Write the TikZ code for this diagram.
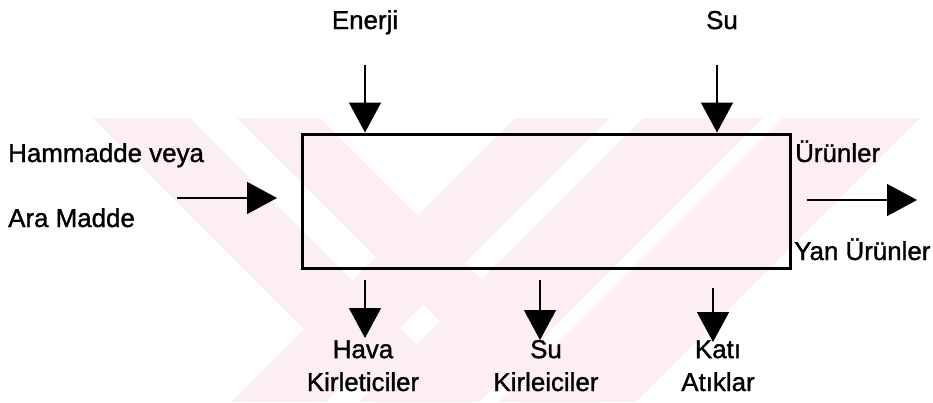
\documentclass[tikz,border=0pt]{standalone}
\usepackage{fontspec}
\setmainfont{Liberation Sans}
\newfontfamily\lblfont[FakeBold=1.2]{Liberation Sans}
\usetikzlibrary{arrows.meta}
\definecolor{markpink}{RGB}{253,238,241}

\begin{document}
\begin{tikzpicture}[x=1bp, y=-1bp,
  lbl/.style={inner sep=0pt, font=\lblfont\fontsize{26}{33}\selectfont, align=center},
  flow/.style={-{Triangle[length=30bp, width=32bp]}, line width=1.4bp},
  procbox/.style={draw, line width=3bp, minimum width=488bp, minimum height=134bp, inner sep=0pt}]
\useasboundingbox (0,0) rectangle (933,402);

% pale stripes behind the chart
\begin{scope}
\clip (0,118) rectangle (933,402);
\foreach \a/\b in {93/190, 237/320}
  \fill[markpink] (\a,118) -- (\b,118) -- (\b+284,402) -- (\a+284,402) -- cycle;
\foreach \a/\b in {515/610, 643/763, 783/920}
  \fill[markpink] (\a,118) -- (\b,118) -- (\b-284,402) -- (\a-284,402) -- cycle;
\end{scope}

% process box
\node[procbox] (proc) at (546,201) {};

% inputs from above
\node[lbl, anchor=base] (enerji) at (365,29) {Enerji};
\node[lbl, anchor=base] (su) at (722,29) {Su};
\coordinate (enerjiIn) at (365,65);
\coordinate (suIn) at (717,65);
\draw[flow] (enerjiIn) -- (enerjiIn |- proc.north);
\draw[flow] (suIn) -- (suIn |- proc.north);

% raw material in, products out
\node[lbl, anchor=base west] (hammadde) at (8,162) {Hammadde veya};
\node[lbl, anchor=base west] (ara) at (8,227) {Ara Madde};
\coordinate (hamIn) at (177,198);
\coordinate (hamTip) at (277,198);
\draw[flow] (hamIn) -- (hamTip);

\node[lbl, anchor=base west] (urun) at (795,162) {Ürünler};
\node[lbl, anchor=base west] (yan) at (794,260) {Yan Ürünler};
\coordinate (urunOut) at (807,200);
\coordinate (urunTip) at (917,200);
\draw[flow] (urunOut) -- (urunTip);

% wastes below
\coordinate (havaOut) at (365,280);
\coordinate (havaTip) at (365,338);
\coordinate (suOut) at (540,280);
\coordinate (suTip) at (540,340);
\coordinate (katiOut) at (713,288);
\coordinate (katiTip) at (713,342);
\draw[flow] (havaOut) -- (havaTip);
\draw[flow] (suOut) -- (suTip);
\draw[flow] (katiOut) -- (katiTip);

\node[lbl, anchor=base] (hava) at (363,391) {Hava\\Kirleticiler};
\node[lbl, anchor=base] (suKir) at (546,391) {Su\\Kirleiciler};
\node[lbl, anchor=base] (kati) at (718,391) {Katı\\Atıklar};
\end{tikzpicture}
\end{document}
